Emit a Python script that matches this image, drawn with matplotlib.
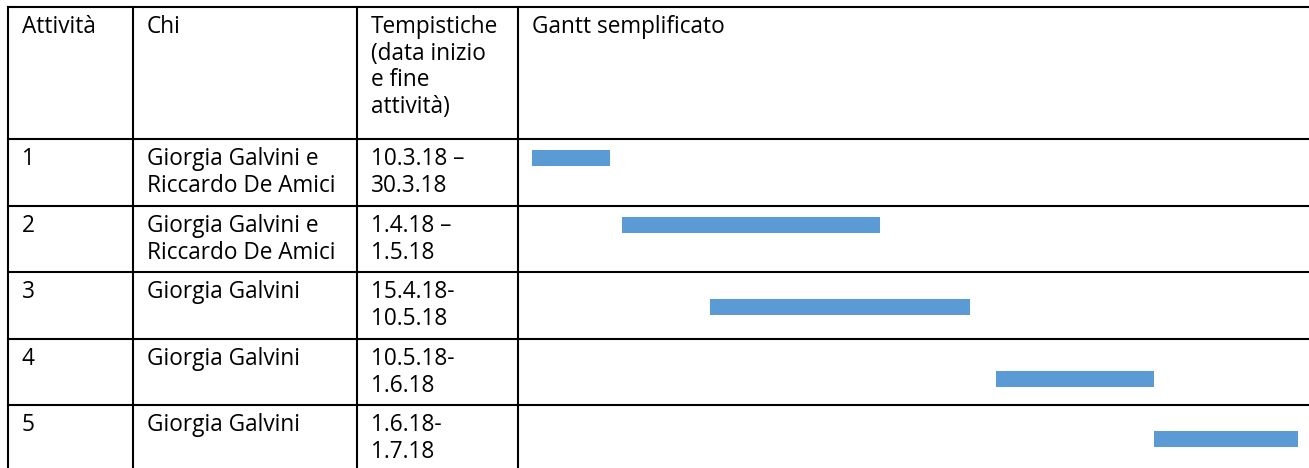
import matplotlib
matplotlib.use("Agg")
import matplotlib.pyplot as plt

# ---- data ----
headers = ["Attività", "Chi", "Tempistiche\n(data inizio\ne fine\nattività)", "Gantt semplificato"]
activities = ["1", "2", "3", "4", "5"]
people = ["Giorgia Galvini e\nRiccardo De Amici",
          "Giorgia Galvini e\nRiccardo De Amici",
          "Giorgia Galvini",
          "Giorgia Galvini",
          "Giorgia Galvini"]
dates = ["10.3.18 –\n30.3.18",
         "1.4.18 –\n1.5.18",
         "15.4.18-\n10.5.18",
         "10.5.18-\n1.6.18",
         "1.6.18-\n1.7.18"]
# simplified Gantt, position along the Gantt column (0-100 scale)
bar_start = [1.8, 13.1, 24.3, 60.4, 80.4]
bar_end = [11.6, 45.8, 57.1, 80.4, 98.6]

# ---- layout ----
W, H = 1309, 468
col_x = [8, 133, 357, 518]
row_y = [7, 139, 206, 272, 339, 405]
bar_center = [158, 225, 307, 379, 439]
bar_h = 16
pad = 14
first_base = 26
line_step = 26.7
FONT = "Open Sans"
FS = 16.3
LW = 1.5
BAR_COLOR = "#5B9BD5"

fig = plt.figure(figsize=(W / 100, H / 100), dpi=100)
ax = fig.add_axes([0, 0, 1, 1])
ax.set_xlim(0, W)
ax.set_ylim(H, 0)
ax.axis("off")

# grid lines
for y in row_y:
    ax.plot([col_x[0], W + 5], [y, y], color="black", lw=LW, solid_capstyle="projecting")
for x in col_x:
    ax.plot([x, x], [row_y[0], H + 5], color="black", lw=LW, solid_capstyle="projecting")


def cell_text(x, top, s):
    for k, line in enumerate(s.split("\n")):
        ax.text(x + pad, top + first_base + k * line_step, line, fontsize=FS,
                family=FONT, va="baseline", ha="left", color="black")


for c, h in enumerate(headers):
    cell_text(col_x[c], row_y[0], h)

for r in range(len(activities)):
    top = row_y[r + 1]
    cell_text(col_x[0], top, activities[r])
    cell_text(col_x[1], top, people[r])
    cell_text(col_x[2], top, dates[r])

# Gantt axes over the last column
gx = fig.add_axes([col_x[3] / W, 0, (W - col_x[3]) / W, 1])
gx.set_xlim(0, 100)
gx.set_ylim(H, 0)
gx.axis("off")
gx.patch.set_alpha(0)
widths = [e - s for s, e in zip(bar_start, bar_end)]
gx.barh(bar_center, widths, left=bar_start, height=bar_h, color=BAR_COLOR, edgecolor="none")

fig.savefig("out.png", dpi=100)
